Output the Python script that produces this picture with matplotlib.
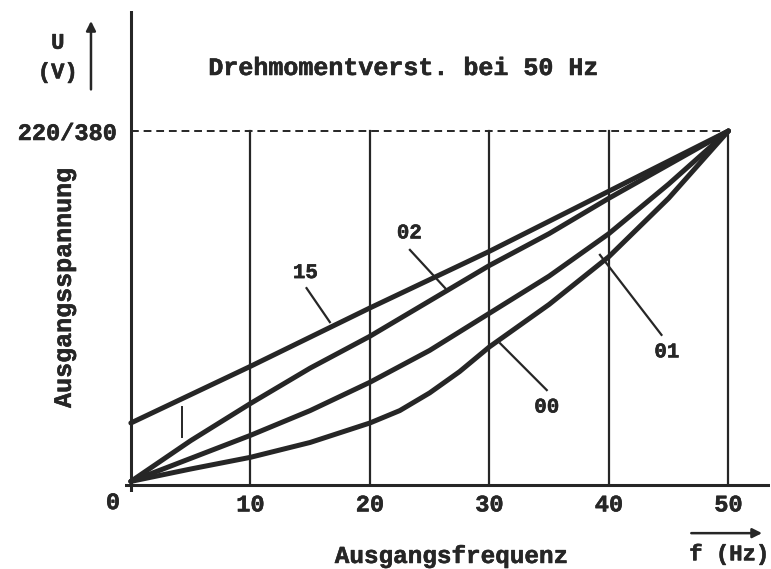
import matplotlib
matplotlib.use("Agg")
import matplotlib.pyplot as plt
import matplotlib.patheffects as pe

# Ausgangsspannung (bezogen auf 220/380 V) ueber Ausgangsfrequenz
f_00 = [0, 5, 10, 15, 20, 22.5, 25, 27.5, 30, 35, 40, 45, 50]
u_00 = [0.01, 0.045, 0.078, 0.12, 0.175, 0.21, 0.26, 0.32, 0.39, 0.51, 0.645, 0.81, 1.0]

f_01 = [0, 5, 10, 15, 20, 25, 30, 35, 40, 45, 50]
u_01 = [0.01, 0.075, 0.14, 0.21, 0.29, 0.38, 0.485, 0.59, 0.71, 0.85, 1.0]

f_02 = [0, 5, 10, 15, 20, 25, 30, 35, 40, 45, 50]
u_02 = [0.01, 0.125, 0.23, 0.33, 0.42, 0.52, 0.62, 0.71, 0.81, 0.905, 1.0]

f_15 = [0, 10, 20, 30, 40, 50]
u_15 = [0.175, 0.335, 0.50, 0.66, 0.83, 1.0]

xticks = [10, 20, 30, 40, 50]
xticklabels = ["10", "20", "30", "40", "50"]

ink = "#262626"
plt.rcParams["font.family"] = ["Liberation Mono", "DejaVu Sans Mono"]
plt.rcParams["font.weight"] = "bold"
# scanned typewriter text looks a bit heavier
heavy = [pe.withStroke(linewidth=0.4, foreground=ink)]

fig = plt.figure(figsize=(7.71, 5.69), dpi=100)
ax = fig.add_axes([0.162, 0.1353, 0.837, 0.846])
ax.set_xlim(-0.5, 53.5)
ax.set_ylim(-0.02, 1.34)
for s in ax.spines.values():
    s.set_visible(False)

# axes lines
ax.axhline(0, color=ink, lw=2.2)
ax.axvline(0, color=ink, lw=2.2)

# grid up to the nominal voltage
for x in xticks:
    ax.plot([x, x], [0, 1.0], color=ink, lw=1.6)
ax.plot([0, 50], [1.0, 1.0], color=ink, lw=1.4, ls=(0, (4, 2.5)))

# curves
for fx, ux in [(f_00, u_00), (f_01, u_01), (f_02, u_02), (f_15, u_15)]:
    ax.plot(fx, ux, color=ink, lw=3.6, solid_joinstyle="round", solid_capstyle="round")

# small marker between 15 and 02
ax.plot([4.3, 4.3], [0.135, 0.22], color=ink, lw=1.4)

# curve labels with leader lines
labels = [("15", (14.6, 0.60), (14.7, 0.556), (16.65, 0.46)),
          ("02", (23.3, 0.712), (23.35, 0.664), (26.3, 0.556)),
          ("01", (44.85, 0.376), (44.4, 0.424), (39.25, 0.65)),
          ("00", (34.8, 0.22), (34.8, 0.268), (30.9, 0.40))]
for txt, tpos, p0, p1 in labels:
    ax.text(tpos[0], tpos[1], txt, ha="center", va="center", fontsize=15, color=ink,
            fontweight="bold", path_effects=heavy)
    ax.plot([p0[0], p1[0]], [p0[1], p1[1]], color=ink, lw=1.6)

ax.text(22.8, 1.178, "Drehmomentverst. bei 50 Hz", ha="center", va="center",
        fontsize=18, color=ink, fontweight="bold", path_effects=heavy)

# ticks
ax.set_xticks(xticks, xticklabels)
ax.set_yticks([1.0], ["220/380"])
ax.tick_params(length=0, labelsize=17, colors=ink)
ax.tick_params(axis="x", pad=1)
ax.tick_params(axis="y", pad=6)
for t in ax.get_xticklabels() + ax.get_yticklabels():
    t.set_path_effects(heavy)
ax.text(-1.5, -0.05, "0", ha="center", va="center", fontsize=17, color=ink,
        fontweight="bold", path_effects=heavy)

ax.set_xlabel("Ausgangsfrequenz", fontsize=17.5, color=ink, fontweight="bold", path_effects=heavy)
ax.xaxis.set_label_coords(0.505, -0.110)
ax.set_ylabel("Ausgangsspannung", fontsize=18, color=ink, fontweight="bold", path_effects=heavy)
ax.yaxis.set_label_coords(-0.076, 0.424)

# unit annotations with arrows
fig.text(0.075, 0.924, "U", ha="center", va="center", fontsize=16, color=ink,
         fontweight="bold", path_effects=heavy)
fig.text(0.075, 0.872, "(V)", ha="center", va="center", fontsize=16, color=ink,
         fontweight="bold", path_effects=heavy)
ax.annotate("", xy=(0.118, 0.968), xytext=(0.118, 0.838), xycoords="figure fraction",
            arrowprops=dict(arrowstyle="-|>", color=ink, lw=1.8, mutation_scale=14))
fig.text(0.946, 0.025, "f (Hz)", ha="center", va="center", fontsize=16, color=ink,
         fontweight="bold", path_effects=heavy)
ax.annotate("", xy=(0.992, 0.063), xytext=(0.893, 0.063), xycoords="figure fraction",
            arrowprops=dict(arrowstyle="-|>", color=ink, lw=1.8, mutation_scale=14))

fig.savefig("out.png", dpi=100)
